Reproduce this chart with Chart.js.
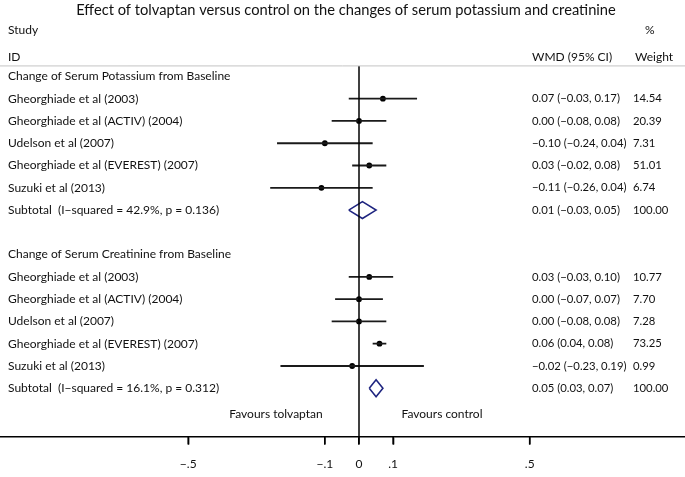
<!DOCTYPE html>
<html lang="en">
<head>
  <meta charset="UTF-8" />
  <title>Tolvaptan vs control: serum potassium and creatinine</title>
  <style>
    body { margin:0; background:#fff; }
    #wrap { width:685px; height:477px; }
    canvas { display:block; }
  </style>
</head>
<body>
  <div id="wrap"><canvas id="chart" width="685" height="477"></canvas></div>

  <script src="https://cdn.jsdelivr.net/npm/chart.js"></script>
  <script>
  // 1) Data
  const studies = [
    'Gheorghiade et al (2003)',
    'Gheorghiade et al (ACTIV) (2004)',
    'Udelson et al (2007)',
    'Gheorghiade et al (EVEREST) (2007)',
    'Suzuki et al (2013)'
  ];
  const groupTitles = [
    'Change of Serum Potassium from Baseline',
    'Change of Serum Creatinine from Baseline'
  ];

  // potassium: WMD, lower, upper, % weight
  const potassiumWmd    = [0.07, 0.00, -0.10, 0.03, -0.11];
  const potassiumLow    = [-0.03, -0.08, -0.24, -0.02, -0.26];
  const potassiumHigh   = [0.17, 0.08, 0.04, 0.08, 0.04];
  const potassiumWeight = [14.54, 20.39, 7.31, 51.01, 6.74];
  const potassiumTotal  = [0.01, -0.03, 0.05];
  const potassiumHet    = 'Subtotal  (I\u2212squared = 42.9%, p = 0.136)';

  // creatinine
  const creatinineWmd    = [0.03, 0.00, 0.00, 0.06, -0.02];
  const creatinineLow    = [-0.03, -0.07, -0.08, 0.04, -0.23];
  const creatinineHigh   = [0.10, 0.07, 0.08, 0.08, 0.19];
  const creatinineWeight = [10.77, 7.70, 7.28, 73.25, 0.99];
  const creatinineTotal  = [0.05, 0.03, 0.07];
  const creatinineHet    = 'Subtotal  (I\u2212squared = 16.1%, p = 0.312)';

  const xTicks = [-0.5, -0.1, 0, 0.1, 0.5];

  // 2) Layout constants (pixels / row units)
  const FONT = 'Lato, "Open Sans", sans-serif';
  const ZERO_PX = 359, PX_PER_UNIT = 341.5, WIDTH = 685;
  const X_MIN = -ZERO_PX / PX_PER_UNIT;
  const X_MAX = (WIDTH - ZERO_PX) / PX_PER_UNIT;
  const Y_MIN = -3.43, Y_MAX = 16.17;
  const NAVY = '#1f2580', INK = '#111';
  const STUDY_X = 8, WMD_X = 532, WT_X = 633;

  const minus = s => s.replace(/-/g, '\u2212');
  const fmt = v => minus(v.toFixed(2));
  const ciText = (e, l, h) => `${fmt(e)} (${fmt(l)}, ${fmt(h)})`;
  const tickText = v => v === 0 ? '0' : minus(String(v).replace('0.', '.'));

  // rows: group header, 5 studies, subtotal, blank
  const groups = [
    { title: groupTitles[0], start: 0, wmd: potassiumWmd, lo: potassiumLow, hi: potassiumHigh,
      wt: potassiumWeight, total: potassiumTotal, het: potassiumHet },
    { title: groupTitles[1], start: 8, wmd: creatinineWmd, lo: creatinineLow, hi: creatinineHigh,
      wt: creatinineWeight, total: creatinineTotal, het: creatinineHet }
  ];

  // 3) Datasets
  const datasets = [];
  // null line
  datasets.push({
    data: [{ x: 0, y: -0.47 }, { x: 0, y: Y_MAX }],
    showLine: true, borderColor: '#000', borderWidth: 1.5, pointRadius: 0
  });
  const estPoints = [];
  groups.forEach(g => {
    g.wmd.forEach((e, i) => {
      const row = g.start + 1 + i;
      datasets.push({
        data: [{ x: g.lo[i], y: row }, { x: g.hi[i], y: row }],
        showLine: true, borderColor: '#1a1a1a', borderWidth: 1.8, pointRadius: 0
      });
      estPoints.push({ x: e, y: row });
    });
    const r = g.start + 6, [e, l, h] = g.total;
    datasets.push({
      data: [{ x: l, y: r }, { x: e, y: r - 0.38 }, { x: h, y: r }, { x: e, y: r + 0.38 }, { x: l, y: r }],
      showLine: true, borderColor: NAVY, borderWidth: 1.6, pointRadius: 0,
      borderJoinStyle: 'miter', fill: false
    });
  });
  datasets.push({
    data: estPoints, pointRadius: 2.9, pointBackgroundColor: '#000',
    pointBorderWidth: 0, showLine: false
  });

  // 4) Text columns drawn against the y scale
  const forestText = {
    id: 'forestText',
    afterDraw(chart) {
      const { ctx, chartArea, scales: { x, y } } = chart;
      const py = r => y.getPixelForValue(r);
      ctx.save();

      // axis tick marks
      ctx.strokeStyle = '#000';
      ctx.lineWidth = 1.7;
      ctx.beginPath();
      xTicks.forEach(v => {
        const px = x.getPixelForValue(v);
        ctx.moveTo(px, chartArea.bottom);
        ctx.lineTo(px, chartArea.bottom + 8);
      });
      ctx.stroke();

      ctx.fillStyle = INK;
      ctx.textBaseline = 'middle';

      ctx.font = `14.7px ${FONT}`;
      ctx.textAlign = 'center';
      ctx.fillText('Effect of tolvaptan versus control on the changes of serum potassium and creatinine', 346, py(-2.97));

      ctx.font = `12px ${FONT}`;
      ctx.textAlign = 'left';
      ctx.fillText('Study', STUDY_X, py(-2.09));
      ctx.fillText('ID', STUDY_X, py(-0.87));
      ctx.fillText('WMD (95% CI)', WMD_X, py(-0.87));
      ctx.fillText('%', WT_X + 12, py(-2.09));
      ctx.fillText('Weight', WT_X + 2, py(-0.87));

      // header rule
      ctx.strokeStyle = '#c4c4c4';
      ctx.lineWidth = 1;
      ctx.beginPath();
      ctx.moveTo(0, py(-0.47)); ctx.lineTo(WIDTH, py(-0.47));
      ctx.stroke();

      const numRow = (txt, wt, r) => {
        ctx.font = `11.3px ${FONT}`;
        ctx.fillText(txt, WMD_X, py(r));
        const end = WMD_X + ctx.measureText(txt).width + 3;
        ctx.fillText(wt, Math.max(WT_X, end), py(r));
        ctx.font = `12px ${FONT}`;
      };

      groups.forEach(g => {
        ctx.fillText(g.title, STUDY_X, py(g.start));
        studies.forEach((s, i) => {
          const r = g.start + 1 + i;
          ctx.fillText(s, STUDY_X, py(r));
          numRow(ciText(g.wmd[i], g.lo[i], g.hi[i]), g.wt[i].toFixed(2), r);
        });
        const r = g.start + 6;
        ctx.fillText(g.het, STUDY_X, py(r));
        numRow(ciText(...g.total), '100.00', r);
      });

      ctx.textAlign = 'center';
      ctx.fillText('Favours tolvaptan', 276, py(15.15));
      ctx.fillText('Favours control', 442, py(15.15));
      ctx.restore();
    }
  };

  // 5) Chart
  new Chart(document.getElementById('chart'), {
    type: 'scatter',
    data: { datasets },
    plugins: [forestText],
    options: {
      responsive: false,
      animation: false,
      layout: { autoPadding: false, padding: { left: 0, right: 0, top: 0, bottom: -6 } },
      plugins: { legend: { display: false }, tooltip: { enabled: false }, title: { display: false } },
      scales: {
        x: {
          type: 'linear', min: X_MIN, max: X_MAX,
          afterBuildTicks: axis => { axis.ticks = xTicks.map(v => ({ value: v })); },
          ticks: {
            color: INK, font: { family: FONT, size: 12 }, padding: 12,
            maxRotation: 0, autoSkip: false, callback: v => tickText(v)
          },
          grid: { drawOnChartArea: false, drawTicks: true, tickLength: 8, color: '#000', lineWidth: 1.3 },
          border: { display: true, color: '#000', width: 1.6 }
        },
        y: { type: 'linear', display: false, reverse: true, min: Y_MIN, max: Y_MAX }
      }
    }
  });
  </script>
</body>
</html>
